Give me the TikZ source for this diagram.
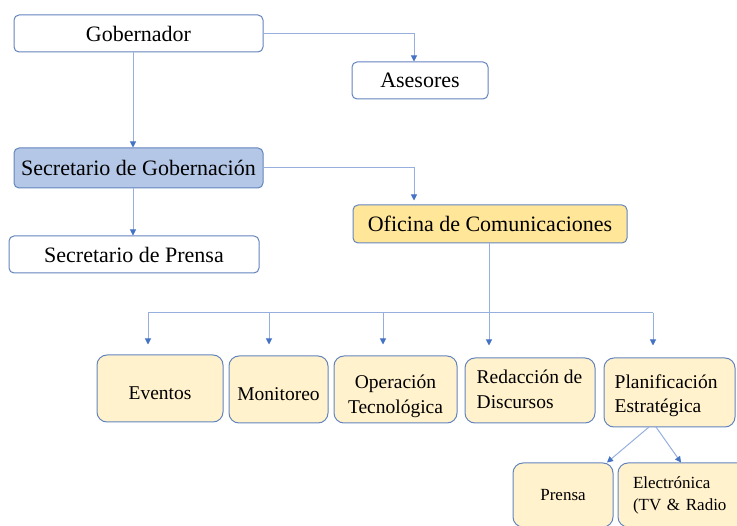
\documentclass[tikz,border=0pt]{standalone}
\usepackage{fontspec}
\setmainfont{Liberation Serif}
\usetikzlibrary{arrows.meta}
\definecolor{bordc}{RGB}{100,132,190}
\definecolor{linec}{RGB}{150,175,222}
\definecolor{arrc}{RGB}{68,114,196}
\definecolor{sgfill}{RGB}{180,199,231}
\definecolor{ocfill}{RGB}{255,230,153}
\definecolor{lyel}{RGB}{255,242,204}
\begin{document}
\begin{tikzpicture}[x=1pt,y=-1pt,
  box/.style={draw=bordc, line width=1pt, rounded corners=5pt, inner sep=0pt, fill=white,
              font=\fontsize{22}{26}\selectfont},
  sbox/.style={draw=bordc, line width=1pt, rounded corners=10pt, inner sep=0pt, fill=lyel,
              minimum height=67pt},
  stxt/.style={inner sep=0pt, font=\fontsize{19.5}{24.5}\selectfont, align=center},
  tbox/.style={draw=bordc, line width=1pt, rounded corners=10pt, inner ysep=0pt, fill=lyel,
              font=\fontsize{17}{22}\selectfont},
  conn/.style={draw=linec, line width=1pt, -{Triangle[width=6pt,length=6pt,color=arrc]}},
  plainline/.style={draw=linec, line width=1pt}]
\useasboundingbox (0,0) rectangle (737,526);
% top level
\node[box, minimum width=249pt, minimum height=37pt] (gob) at (138.5,33.5) {Gobernador};
\node[box, minimum width=136pt, minimum height=37pt] (ases) at (420,80.5) {Asesores};
\node[box, fill=sgfill, minimum width=249pt, minimum height=40pt] (sg) at (138.5,168) {Secretario de Gobernación};
\node[box, minimum width=250pt, minimum height=37pt] (sp) at (134,254.5) {Secretario de Prensa};
\node[box, fill=ocfill, minimum width=274pt, minimum height=38pt] (ocom) at (490,224) {Oficina de Comunicaciones};
% second row boxes
\node[sbox, minimum width=126pt] (ev) at (160,388.5) {};
\node[sbox, minimum width=99pt] (mon) at (278.5,389.5) {};
\node[sbox, minimum width=123pt] (op) at (395.5,389.5) {};
\node[sbox, minimum width=130pt, minimum height=65pt] (red) at (530,390.5) {};
\node[sbox, minimum width=131pt, minimum height=69pt] (plan) at (669.5,392.5) {};
% second row texts
\node[stxt] (evt) at ([yshift=-4.5pt]ev.center) {Eventos};
\node[stxt] (mont) at ([yshift=-4.5pt]mon.center) {Monitoreo};
\node[stxt] (opt) at ([yshift=-7pt]op.center) {Operación\\Tecnológica};
\node[stxt, align=left, anchor=west] (redt) at ([xshift=12pt,yshift=1pt]red.west) {Redacción de\\Discursos};
\node[stxt, align=left, anchor=west] (plant) at ([xshift=11pt,yshift=-3pt]plan.west) {Planificación\\Estratégica};
% third row
\node[tbox, inner xsep=0pt, minimum width=100pt, minimum height=64pt] (pren) at (563,495) {Prensa};
\node[tbox, align=left, inner xsep=15pt, text width=120pt, minimum height=64pt] (elec) at (693,495) {Electrónica\\(TV \& Radio};
% helper coordinates
\coordinate (xa) at (414,0);
\coordinate (xg) at (133,0);
\coordinate (b1) at (148,313);
\coordinate (b2) at (269,313);
\coordinate (b3) at (383,313);
\coordinate (b4) at (489,313);
\coordinate (b5) at (653,313);
\coordinate (pa) at (649,427);
\coordinate (pb) at (656,427);
\coordinate (qa) at (607,0);
\coordinate (qb) at (681,0);
% connectors
\draw[conn] (gob.east) -| (xa |- ases.north);
\draw[conn] (gob.south -| xg) -- (sg.north -| xg);
\draw[conn] (sg.south -| xg) -- (sp.north -| xg);
\draw[conn, shorten >=4pt] (sg.east) -| (xa |- ocom.north);
\draw[plainline] (ocom.south -| b4) -- (b4);
\draw[plainline] (b1) -- (b5);
\draw[conn, shorten >=10pt] (b1) -- (b1 |- ev.north);
\draw[conn, shorten >=11pt] (b2) -- (b2 |- mon.north);
\draw[conn, shorten >=11pt] (b3) -- (b3 |- op.north);
\draw[conn, shorten >=12pt] (b4) -- (b4 |- red.north);
\draw[conn, shorten >=12pt] (b5) -- (b5 |- plan.north);
\draw[conn] (pa) -- (qa |- pren.north);
\draw[conn] (pb) -- (qb |- elec.north);
\end{tikzpicture}
\end{document}
